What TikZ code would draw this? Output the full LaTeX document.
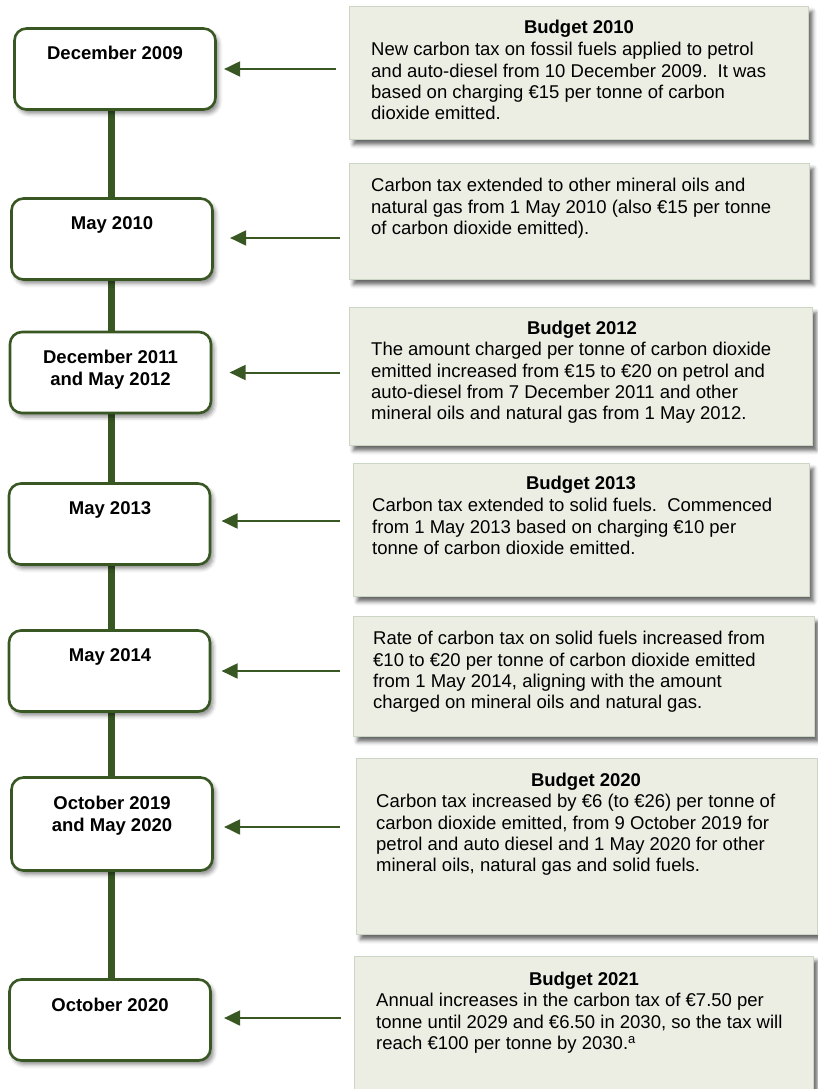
\documentclass[tikz,border=0pt]{standalone}
\usepackage{fontspec}
\setmainfont{Liberation Sans}
\usetikzlibrary{shadows.blur,arrows.meta,backgrounds}
\definecolor{dgreen}{RGB}{56,87,35}
\definecolor{notefill}{RGB}{236,237,227}
\definecolor{noteline}{RGB}{205,214,196}
\begin{document}
\begin{tikzpicture}[x=1pt,y=-1pt,
  datebox/.style={draw=dgreen, line width=2.6pt, rounded corners=12pt, fill=white, inner sep=0pt,
    minimum width=201pt, minimum height=81pt,
    blur shadow={shadow xshift=3pt, shadow yshift=-4pt, shadow blur radius=4pt, shadow opacity=45}},
  note/.style={draw=noteline, line width=0.8pt, fill=notefill, inner sep=0pt,
    blur shadow={shadow xshift=4pt, shadow yshift=-5pt, shadow blur radius=4pt, shadow opacity=60}},
  datetext/.style={font=\fontsize{18.5}{21.3}\selectfont\bfseries, align=center, inner sep=0pt, anchor=north},
  titletext/.style={font=\fontsize{18.5}{21.3}\selectfont\bfseries, inner sep=0pt, anchor=north},
  body/.style={font=\fontsize{18.5}{21.3}\selectfont, align=left, anchor=north west, inner sep=0pt},
  spine/.style={draw=dgreen, line width=6.5pt},
  arr/.style={draw=dgreen, line width=2pt, -{Triangle[length=16pt,width=15pt]}}]

\useasboundingbox (0,0) rectangle (817,1089);
\coordinate (sx) at (111.5,0);

% ---- right notes
\node[note, minimum width=459pt, minimum height=133pt] (R1) at (579,73) {};
\node[note, minimum width=460pt, minimum height=116pt] (R2) at (579.5,221.5) {};
\node[note, minimum width=463pt, minimum height=138pt] (R3) at (581,376.5) {};
\node[note, minimum width=456pt, minimum height=133pt] (R4) at (581.5,530) {};
\node[note, minimum width=461pt, minimum height=120pt] (R5) at (584,676.5) {};
\node[note, minimum width=461pt, minimum height=176pt] (R6) at (587,846.5) {};
\node[note, minimum width=459pt, minimum height=154pt] (R7) at (584,1033) {};

\node[titletext] (T1) at (579,20.2) {Budget 2010};
\node[body] (B1) at (371,42.2) {New carbon tax on fossil fuels applied to petrol\\and auto-diesel from 10 December 2009.~~It was\\based on charging €15 per tonne of carbon\\dioxide emitted.};
\node[body] (B2) at (371,178.2) {Carbon tax extended to other mineral oils and\\natural gas from 1 May 2010 (also €15 per tonne\\of carbon dioxide emitted).};
\node[titletext] (T3) at (582,321.2) {Budget 2012};
\node[body] (B3) at (371,342.2) {The amount charged per tonne of carbon dioxide\\emitted increased from €15 to €20 on petrol and\\auto-diesel from 7 December 2011 and other\\mineral oils and natural gas from 1 May 2012.};
\node[titletext] (T4) at (581,476.2) {Budget 2013};
\node[body] (B4) at (372,498.2) {Carbon tax extended to solid fuels.~~Commenced\\from 1 May 2013 based on charging €10 per\\tonne of carbon dioxide emitted.};
\node[body] (B5) at (373,631.2) {Rate of carbon tax on solid fuels increased from\\€10 to €20 per tonne of carbon dioxide emitted\\from 1 May 2014, aligning with the amount\\charged on mineral oils and natural gas.};
\node[titletext] (T6) at (586,773.2) {Budget 2020};
\node[body] (B6) at (376,794.2) {Carbon tax increased by €6 (to €26) per tonne of\\carbon dioxide emitted, from 9 October 2019 for\\petrol and auto diesel and 1 May 2020 for other\\mineral oils, natural gas and solid fuels.};
\node[titletext] (T7) at (584,972.2) {Budget 2021};
\node[body] (B7) at (376,993.2) {Annual increases in the carbon tax of €7.50 per\\tonne until 2029 and €6.50 in 2030, so the tax will\\reach €100 per tonne by 2030.\textsuperscript{a}};

% ---- left date boxes
\node[datebox] (L1) at (115,69) {};
\node[datebox] (L2) at (112,239) {};
\node[datebox] (L3) at (110.5,372.5) {};
\node[datebox] (L4) at (109.5,524) {};
\node[datebox] (L5) at (109.5,671) {};
\node[datebox, minimum height=93pt] (L6) at (112,824) {};
\node[datebox] (L7) at (110,1020) {};

\node[datetext] (D1) at (115,46.2) {December 2009};
\node[datetext] (D2) at (112,216.2) {May 2010};
\node[datetext] (D3) at (110.5,350.2) {December 2011\\and May 2012};
\node[datetext] (D4) at (110,501.2) {May 2013};
\node[datetext] (D5) at (110,648.2) {May 2014};
\node[datetext] (D6) at (112,796.2) {October 2019\\and May 2020};
\node[datetext] (D7) at (110,998.2) {October 2020};

% ---- spine
\begin{pgfonlayer}{background}
\draw[spine] (L1.south -| sx) -- (L2.north -| sx);
\draw[spine] (L2.south -| sx) -- (L3.north -| sx);
\draw[spine] (L3.south -| sx) -- (L4.north -| sx);
\draw[spine] (L4.south -| sx) -- (L5.north -| sx);
\draw[spine] (L5.south -| sx) -- (L6.north -| sx);
\draw[spine] (L6.south -| sx) -- (L7.north -| sx);
\end{pgfonlayer}

% ---- arrows
\draw[arr] ([xshift=-13.4pt]L1.east -| R1.west) -- ([xshift=7.3pt]L1.east);
\draw[arr] ([xshift=-9.4pt,yshift=1pt]L2.east -| R2.west) -- ([xshift=16.3pt,yshift=1pt]L2.east);
\draw[arr] ([xshift=-9.4pt]L3.east -| R3.west) -- ([xshift=17.3pt]L3.east);
\draw[arr] ([xshift=-13.4pt,yshift=3pt]L4.east -| R4.west) -- ([xshift=10.3pt,yshift=3pt]L4.east);
\draw[arr] ([xshift=-13.4pt]L5.east -| R5.west) -- ([xshift=10.3pt]L5.east);
\draw[arr] ([xshift=-16.4pt,yshift=-3pt]L6.east -| R6.west) -- ([xshift=10.3pt,yshift=-3pt]L6.east);
\draw[arr] ([xshift=-13.4pt,yshift=2pt]L7.east -| R7.west) -- ([xshift=12.3pt,yshift=2pt]L7.east);
\end{tikzpicture}
\end{document}
